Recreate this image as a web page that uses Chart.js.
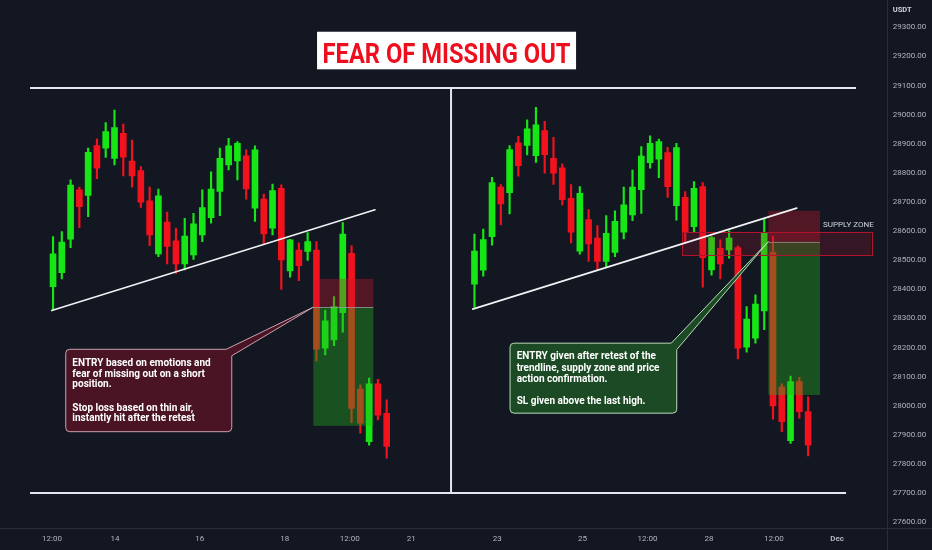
<!DOCTYPE html>
<html>
<head>
<meta charset="utf-8">
<script src="https://cdn.jsdelivr.net/npm/chart.js@4.4.1/dist/chart.umd.min.js"></script>
<style>
html,body{margin:0;padding:0;background:#131722;overflow:hidden;}
#wrap{width:932px;height:550px;position:relative;}
</style>
</head>
<body>
<div id="wrap"><canvas id="c" width="932" height="550"></canvas></div>
<script>
// ---------- DATA ----------
// Left panel candles (OHLC, USDT)
const leftOpen  = [28409,28457,28572,28742,28723,28894,28885,28850,28936,28841,28808,28704,28522,28631,28567,28487,28518,28587,28646,28736,28827,28841,28859,28679,28710,28610,28747,28463,28535,28530,28535,28198,28226,28320,28524,28057,27877,28075,27974];
const leftHigh  = [28581,28598,28776,28751,28885,28917,28973,29016,28968,28913,28822,28751,28744,28665,28610,28644,28661,28742,28804,28885,28919,28908,28879,28893,28727,28762,28759,28572,28560,28595,28564,28329,28375,28629,28549,28072,28095,28091,28020];
const leftLow   = [28329,28436,28543,28612,28650,28780,28853,28827,28790,28751,28681,28550,28512,28487,28455,28467,28503,28564,28627,28653,28810,28776,28710,28633,28553,28587,28400,28442,28430,28499,28154,28175,28206,28253,27942,27906,27865,27951,27820];
const leftClose = [28522,28562,28758,28684,28871,28816,28942,28956,28854,28790,28699,28587,28721,28547,28487,28583,28625,28681,28744,28850,28893,28902,28745,28879,28590,28739,28501,28570,28481,28564,28194,28292,28341,28590,27991,27940,28075,27968,27860];
// Right panel candles
const rightOpen  = [28418,28466,28581,28751,28732,28903,28894,28859,28945,28850,28817,28713,28531,28640,28576,28496,28527,28596,28656,28742,28835,28847,28870,28687,28716,28615,28753,28467,28541,28535,28543,28201,28232,28326,28527,28064,27880,28083,27980];
const rightHigh  = [28590,28607,28785,28760,28894,28926,28982,29025,28977,28922,28831,28760,28753,28674,28619,28653,28670,28751,28810,28890,28927,28916,28888,28902,28736,28770,28767,28581,28570,28601,28549,28341,28381,28644,28583,28075,28102,28098,28031];
const rightLow   = [28338,28445,28552,28621,28659,28789,28862,28836,28799,28760,28690,28559,28521,28496,28464,28476,28512,28573,28636,28661,28816,28784,28716,28638,28558,28595,28407,28449,28436,28507,28161,28184,28215,28261,27954,27911,27871,27957,27828];
const rightClose = [28531,28571,28767,28693,28880,28825,28951,28965,28863,28799,28708,28596,28730,28556,28496,28592,28634,28690,28751,28858,28902,28908,28753,28887,28598,28747,28509,28578,28487,28576,28198,28298,28349,28596,27999,27945,28083,27980,27865];
// Axis ticks
const priceTicks = [27600,27700,27800,27900,28000,28100,28200,28300,28400,28500,28600,28700,28800,28900,29000,29100,29200,29300];
const timeLabels = ['12:00','14','16','18','12:00','21','23','25','12:00','28','12:00','Dec'];
const timeTickIndex = [-0.11,7.06,16.7,26.4,33.8,40.8,50.6,60.3,67.7,74.7,82.1,89.3];
// Text
const titleText = 'FEAR OF MISSING OUT';
const leftNote  = ['ENTRY based on emotions and','fear of missing out on a short','position.','','Stop loss based on thin air,','instantly hit after the retest'];
const rightNote = ['ENTRY given after retest of the','trendline, supply zone and price','action confirmation.','','SL given above the last high.'];

// ---------- CONFIG ----------
const LEFT_START = 0, RIGHT_START = 48;
const X_MIN = -6.04, X_MAX = 94.95, Y_MIN = 27580, Y_MAX = 29394;
const GREEN = '#16e616', RED = '#f2121e', BG = '#131722';

const ann = {
  hTop:   {price: 29092, x0: -2.62, x1: 91.46},
  hBot:   {price: 27700, x0: -2.62, x1: 90.32},
  vLine:  {x: 45.33, p0: 29092, p1: 27700},
  trendL: {x0: -0.15, p0: 28327, x1: 36.67, p1: 28673},
  trendR: {x0: 47.8,  p0: 28332, x1: 84.7,  p1: 28679},
  posL:   {x0: 29.65, x1: 36.48, stop: 28436, entry: 28339, target: 27931},
  posR:   {x0: 81.47, x1: 87.36, stop: 28670, entry: 28564, target: 28037},
  supply: {x0: 71.6, x1: 93.2, top: 28598, bottom: 28518, labelX: 87.7, labelP: 28621},
  noteL:  {x: 1.45, p: 28194, w: 166, h: 82.4, lines: [16.7,27.3,37.3,0,61.7,72]},
  noteR:  {x: 52.05, p: 28215, w: 166.7, h: 70, lines: [16,27.4,38.4,0,60.7]},
  title:  {x: 44.82, p: 29285}
};

// ---------- BUILD DATASETS ----------
const wickData = [], bodyData = [], colors = [];
function addPanel(O,H,L,C,start){
  for (let i=0;i<O.length;i++){
    wickData.push({x:start+i, y:[L[i],H[i]]});
    bodyData.push({x:start+i, y:[O[i],C[i]]});
    colors.push(C[i]>=O[i]?GREEN:RED);
  }
}
addPanel(leftOpen,leftHigh,leftLow,leftClose,LEFT_START);
addPanel(rightOpen,rightHigh,rightLow,rightClose,RIGHT_START);

function condensedText(ctx, txt, x, y, sx){
  ctx.save(); ctx.translate(x,y); ctx.scale(sx,1); ctx.fillText(txt,0,0); ctx.restore();
}
function roundRectPath(ctx,l,t,r,b,rad,pointer){
  ctx.beginPath();
  ctx.moveTo(l+rad,t);
  ctx.lineTo(pointer.b1x,t);
  ctx.lineTo(pointer.tx,pointer.ty);
  ctx.lineTo(r,pointer.b2y);
  ctx.lineTo(r,b-rad); ctx.arcTo(r,b,r-rad,b,rad);
  ctx.lineTo(l+rad,b); ctx.arcTo(l,b,l,b-rad,rad);
  ctx.lineTo(l,t+rad); ctx.arcTo(l,t,l+rad,t,rad);
  ctx.closePath();
}

const bgPlugin = {
  id:'bg',
  beforeDraw(chart){
    const ctx = chart.ctx; ctx.save(); ctx.fillStyle = BG; ctx.fillRect(0,0,chart.width,chart.height); ctx.restore();
  }
};

const overlayPlugin = {
  id:'overlay',
  afterDatasetsDraw(chart){
    const ctx = chart.ctx;
    const X = v => chart.scales.x.getPixelForValue(v);
    const Y = v => chart.scales.y.getPixelForValue(v);
    ctx.save();
    // position boxes
    [ann.posL, ann.posR].forEach(p=>{
      const x0=X(p.x0), x1=X(p.x1);
      ctx.fillStyle='rgba(205,22,45,0.34)';
      ctx.fillRect(x0,Y(p.stop),x1-x0,Y(p.entry)-Y(p.stop));
      ctx.fillStyle='rgba(40,175,30,0.38)';
      ctx.fillRect(x0,Y(p.entry),x1-x0,Y(p.target)-Y(p.entry));
      ctx.strokeStyle='rgba(150,152,160,0.8)'; ctx.lineWidth=1;
      ctx.beginPath(); ctx.moveTo(x0,Math.round(Y(p.entry))+0.5); ctx.lineTo(x1,Math.round(Y(p.entry))+0.5); ctx.stroke();
    });
    // supply zone
    const s = ann.supply;
    ctx.fillStyle='rgba(190,20,50,0.2)';
    ctx.fillRect(X(s.x0),Y(s.top),X(s.x1)-X(s.x0),Y(s.bottom)-Y(s.top));
    ctx.strokeStyle='#b0142c'; ctx.lineWidth=1;
    ctx.strokeRect(Math.round(X(s.x0))+0.5,Math.round(Y(s.top))+0.5,Math.round(X(s.x1)-X(s.x0)),Math.round(Y(s.bottom)-Y(s.top)));
    ctx.fillStyle='#d1d4dc'; ctx.font='8px Roboto'; ctx.textBaseline='middle'; ctx.textAlign='left';
    ctx.fillText('SUPPLY ZONE', X(s.labelX), Y(s.labelP));
    // trendlines
    ctx.strokeStyle='#f2f2f5'; ctx.lineWidth=1.6; ctx.lineCap='round';
    [ann.trendL, ann.trendR].forEach(t=>{
      ctx.beginPath(); ctx.moveTo(X(t.x0),Y(t.p0)); ctx.lineTo(X(t.x1),Y(t.p1)); ctx.stroke();
    });
    // frame lines
    ctx.strokeStyle='#e6e6f0'; ctx.lineWidth=2; ctx.lineCap='butt';
    [ann.hTop, ann.hBot].forEach(h=>{
      ctx.beginPath(); ctx.moveTo(X(h.x0),Y(h.price)); ctx.lineTo(X(h.x1),Y(h.price)); ctx.stroke();
    });
    ctx.beginPath(); ctx.moveTo(X(ann.vLine.x),Y(ann.vLine.p0)); ctx.lineTo(X(ann.vLine.x),Y(ann.vLine.p1)); ctx.stroke();
    // callouts
    function note(n, lines, tipX, tipP, fill, stroke){
      const l=X(n.x), t=Y(n.p), r=l+n.w, b=t+n.h;
      const ptr={b1x:r-5.5, tx:X(tipX), ty:Y(tipP), b2y:t+6.5};
      roundRectPath(ctx,l,t,r,b,4,ptr);
      ctx.fillStyle=fill; ctx.fill();
      ctx.strokeStyle=stroke; ctx.lineWidth=1; ctx.stroke();
      ctx.fillStyle='#ffffff'; ctx.font='bold 11px Roboto'; ctx.textBaseline='alphabetic'; ctx.textAlign='left';
      lines.forEach((txt,i)=>{ if(txt) condensedText(ctx,txt,l+6.6,t+n.lines[i],0.91); });
    }
    note(ann.noteL, leftNote, ann.posL.x0, ann.posL.entry, '#4a1424', '#c9a3ad');
    note(ann.noteR, rightNote, ann.posR.x0, ann.posR.entry, '#1b4a24', '#b9dcb9');
    // title
    const tx=X(ann.title.x), ty=Y(ann.title.p);
    ctx.fillStyle='#ffffff'; ctx.fillRect(tx-129.5, ty, 259, 37.6);
    ctx.fillStyle='#ee0f1e'; ctx.font='bold 28px Roboto'; ctx.textAlign='left'; ctx.textBaseline='alphabetic';
    const w = ctx.measureText(titleText).width;
    condensedText(ctx,titleText,tx-124,ty+31,248/w);
    ctx.restore();
  },
  afterDraw(chart){
    const ctx=chart.ctx, ca=chart.chartArea;
    ctx.save();
    ctx.strokeStyle='#2a2e39'; ctx.lineWidth=1;
    ctx.beginPath(); ctx.moveTo(Math.round(ca.right)+0.5,0); ctx.lineTo(Math.round(ca.right)+0.5,chart.height); ctx.stroke();
    ctx.beginPath(); ctx.moveTo(0,Math.round(ca.bottom)+0.5); ctx.lineTo(chart.width,Math.round(ca.bottom)+0.5); ctx.stroke();
    ctx.fillStyle='#d1d4dc'; ctx.font='bold 7.5px Roboto'; ctx.textAlign='left'; ctx.textBaseline='middle';
    ctx.fillText('USDT', ca.right+6, 10);
    ctx.restore();
  }
};

new Chart(document.getElementById('c'), {
  type:'bar',
  data:{ datasets:[
    {data:wickData, backgroundColor:colors, barThickness:1.5, grouped:false, order:2},
    {data:bodyData, backgroundColor:colors, barThickness:6, grouped:false, minBarLength:1, order:1}
  ]},
  options:{
    responsive:false, animation:false,
    layout:{padding:0},
    plugins:{legend:{display:false}, tooltip:{enabled:false}},
    scales:{
      x:{
        type:'linear', min:X_MIN, max:X_MAX, offset:false,
        grid:{display:false, drawTicks:false}, border:{display:false},
        afterBuildTicks:(sc)=>{ sc.ticks = timeTickIndex.map(v=>({value:v})); },
        afterFit:(sc)=>{ sc.height=22; sc.paddingLeft=0; sc.paddingRight=0; },
        ticks:{ autoSkip:false, maxRotation:0, padding:6, color:'#b2b5be',
          font:(c)=> ({family:'Roboto', size:8, weight: (c.index===timeLabels.length-1)?'bold':'normal'}),
          callback:(v,i)=> timeLabels[i] }
      },
      y:{
        type:'linear', position:'right', min:Y_MIN, max:Y_MAX,
        grid:{display:false, drawTicks:false}, border:{display:false},
        afterBuildTicks:(sc)=>{ sc.ticks = priceTicks.map(v=>({value:v})); },
        afterFit:(sc)=>{ sc.width=45.3; sc.paddingTop=0; sc.paddingBottom=0; },
        ticks:{ padding:6, color:'#b2b5be', font:{family:'Roboto', size:8},
          callback:(v)=> Number(v).toFixed(2) }
      }
    }
  },
  plugins:[bgPlugin, overlayPlugin]
});
</script>
</body>
</html>
